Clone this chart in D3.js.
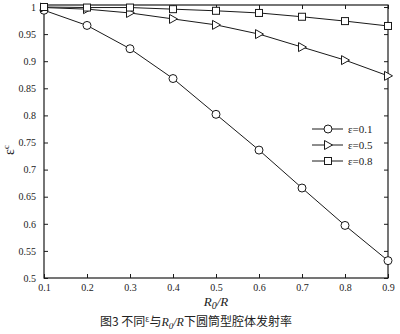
<!DOCTYPE html>
<html><head><meta charset="utf-8">
<script src="https://cdn.jsdelivr.net/npm/d3@7"></script>
<style>body{margin:0;background:#fff;}svg{display:block;}</style>
</head><body><svg id="c" width="400" height="334"></svg>
<script>
const xValues = [0.1,0.2,0.3,0.4,0.5,0.6,0.7,0.8,0.9];
const eps01 = [0.994,0.966,0.923,0.868,0.802,0.736,0.666,0.597,0.532];
const eps05 = [0.999,0.996,0.989,0.978,0.967,0.950,0.926,0.902,0.873];
const eps08 = [1.000,0.999,0.999,0.996,0.993,0.989,0.982,0.974,0.965];
const seriesNames = ["ε=0.1","ε=0.5","ε=0.8"];
const seriesMarkers = ["circle","triangle","square"];
const xTicks = [0.1,0.2,0.3,0.4,0.5,0.6,0.7,0.8,0.9];
const yTicks = [0.5,0.55,0.6,0.65,0.7,0.75,0.8,0.85,0.9,0.95,1];

const svg = d3.select("#c");
const L=44,R=388,T=7,B=278;
const x = d3.scaleLinear().domain([0.1,0.9]).range([L,R]);
const y = d3.scaleLinear().domain([0.5,1]).range([B,T]);
const ink="#1a1a1a";
const font="'Liberation Serif','DejaVu Serif',serif";

svg.append("rect").attr("x",L).attr("y",T-2).attr("width",R-L).attr("height",B-T+2)
  .attr("fill","none").attr("stroke",ink).attr("stroke-width",1.2);

const fmt = d => d===1?"1":String(d);
const xa = svg.append("g").attr("transform",`translate(0,${B})`)
  .call(d3.axisBottom(x).tickValues(xTicks).tickSize(-4).tickPadding(6).tickFormat(fmt));
const xt = svg.append("g").attr("transform",`translate(0,${T-2})`)
  .call(d3.axisTop(x).tickValues(xTicks).tickSize(-4).tickFormat(""));
const ya = svg.append("g").attr("transform",`translate(${L},0)`)
  .call(d3.axisLeft(y).tickValues(yTicks).tickSize(-4).tickPadding(8).tickFormat(fmt));
const yr = svg.append("g").attr("transform",`translate(${R},0)`)
  .call(d3.axisRight(y).tickValues(yTicks).tickSize(-4).tickFormat(""));
[xa,xt,ya,yr].forEach(g=>{
  g.select(".domain").remove();
  g.selectAll("line").attr("stroke",ink);
  g.selectAll("text").attr("font-family",font).attr("font-size",10).attr("fill","#222");
});

const data=[eps01,eps05,eps08];
const line=d3.line().x((d,i)=>x(xValues[i])).y(d=>y(d));
function marker(g,type,cx,cy){
  if(type==="circle") g.append("circle").attr("cx",cx).attr("cy",cy).attr("r",4);
  else if(type==="triangle") g.append("path").attr("d",`M${cx-3.5},${cy-4.5}L${cx+4.5},${cy}L${cx-3.5},${cy+4.5}Z`);
  else g.append("rect").attr("x",cx-3.5).attr("y",cy-3.5).attr("width",7).attr("height",7);
}
data.forEach((vals,si)=>{
  svg.append("path").datum(vals).attr("d",line).attr("fill","none").attr("stroke",ink).attr("stroke-width",1);
  const g=svg.append("g").attr("fill","#fff").attr("stroke",ink).attr("stroke-width",1);
  vals.forEach((v,i)=>marker(g,seriesMarkers[si],x(xValues[i]),y(v)));
});

const lg=svg.append("g");
seriesNames.forEach((n,i)=>{
  const yy=129+i*16;
  lg.append("line").attr("x1",312).attr("x2",343).attr("y1",yy).attr("y2",yy).attr("stroke",ink);
  const g=lg.append("g").attr("fill","#fff").attr("stroke",ink);
  marker(g,seriesMarkers[i],328,yy);
  lg.append("text").attr("x",348).attr("y",yy+4).text(n)
    .attr("font-family",font).attr("font-size",11).attr("fill","#222");
});

const yl=svg.append("text").attr("transform","translate(14,150) rotate(-90)")
  .attr("text-anchor","middle").attr("font-family",font).attr("font-size",14).attr("fill","#222");
yl.append("tspan").text("ε");
yl.append("tspan").attr("font-size",9).attr("dy",-5).text("c");

const xl=svg.append("text").attr("x",216).attr("y",306).attr("text-anchor","middle")
  .attr("font-family",font).attr("font-size",13).attr("font-style","italic").attr("fill","#222");
xl.append("tspan").text("R");
xl.append("tspan").attr("font-size",10).attr("dy",3).text("0");
xl.append("tspan").attr("dy",-3).text("/R");

const cap=svg.append("text").attr("x",100).attr("y",326)
  .attr("font-family","'Noto Sans CJK SC','Liberation Serif',serif").attr("font-size",12).attr("fill","#222");
cap.append("tspan").text("图3 不同");
cap.append("tspan").attr("font-size",8).attr("dy",-4).text("ε");
cap.append("tspan").attr("dy",4).text("与");
cap.append("tspan").attr("font-style","italic").attr("font-family",font).text("R");
cap.append("tspan").attr("font-style","italic").attr("font-family",font).attr("font-size",9).attr("dy",3).text("0");
cap.append("tspan").attr("font-style","italic").attr("font-family",font).attr("dy",-3).text("/R");
cap.append("tspan").text("下圆筒型腔体发射率");
</script></body></html>
